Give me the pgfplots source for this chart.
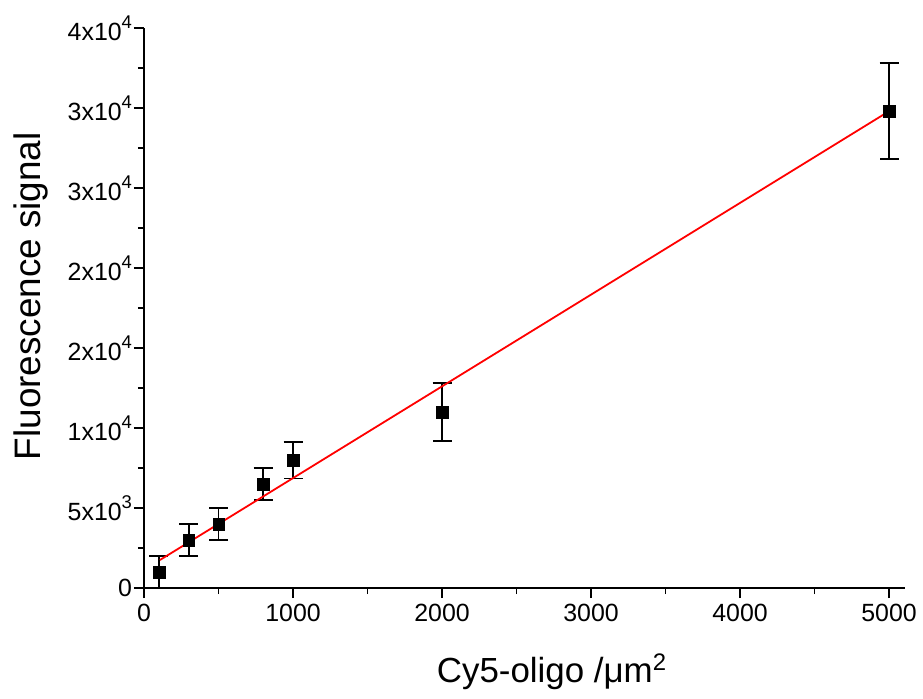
\documentclass[border=0pt]{standalone}
\usepackage{fontspec}
\setmainfont{Liberation Sans}
\usepackage{pgfplots}
\pgfplotsset{compat=1.18}
\newcommand\sy[1]{10\raisebox{12bp}{\fontsize{18.5}{19}\selectfont #1}}
\newcommand\tkfont{\fontsize{25}{29}\selectfont}
\begin{document}
\begin{tikzpicture}
\useasboundingbox (-144bp,-111bp) rectangle (779bp,588bp);
\begin{axis}[
  at={(0,0)}, anchor=south west,
  scale only axis, width=761bp, height=560bp,
  xmin=0, xmax=5107, ymin=0, ymax=35000,
  scaled y ticks=false, scaled x ticks=false,
  axis lines=left,
  axis line style={-, line width=1.8bp, black},
  tick align=outside,
  tick style={black, line width=1.8bp},
  major tick length=10bp, minor tick length=6bp,
  xtick={0,1000,2000,3000,4000,5000},
  xticklabels={0,1000,2000,3000,4000,5000},
  minor x tick num=1,
  ytick={0,5000,10000,15000,20000,25000,30000,35000},
  yticklabels={0,5x\sy{3},1x\sy{4},2x\sy{4},2x\sy{4},3x\sy{4},3x\sy{4},4x\sy{4}},
  minor y tick num=1,
  xticklabel style={font=\tkfont, yshift=-3bp},
  yticklabel style={font=\tkfont, xshift=1.5bp},
  xlabel={\fontsize{35}{40}\selectfont Cy5-oligo /μm\raisebox{12bp}{\fontsize{24}{24}\selectfont 2}},
  ylabel={\fontsize{37}{40}\selectfont Fluorescence signal},
  xlabel style={at={(axis description cs:0.5355,-0.1696)}, anchor=base},
  ylabel style={at={(axis description cs:-0.1485,0.521)}, anchor=center},
  clip=false,
]
\addplot[only marks, mark=square*, mark size=5.8bp, black,
  error bars/.cd, y dir=both, y explicit,
  error bar style={line width=1.8bp, black},
  error mark=-, error mark options={rotate=90, mark size=9.5bp, line width=1.8bp, black}]
  table[x=x, y=y, y error=e] {
x y e
100 1000 1000
300 3000 1000
500 4000 1000
800 6500 1000
1000 8000 1150
2000 11000 1800
5000 29800 3000
};
\addplot[red, line width=1.8bp] coordinates {(107,1750) (5000,29800)};
\end{axis}
\end{tikzpicture}
\end{document}
